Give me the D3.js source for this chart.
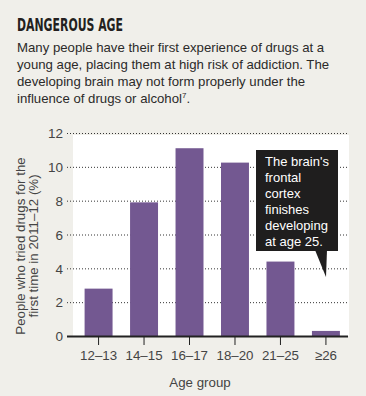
<!DOCTYPE html>
<html><head><meta charset="utf-8">
<script src="https://cdn.jsdelivr.net/npm/d3@7"></script>
<style>
html,body{margin:0;padding:0;background:#f0efea;}
svg{display:block;}
</style></head>
<body>
<svg id="chart" width="366" height="396"></svg>
<script>
const categories = ["12–13","14–15","16–17","18–20","21–25","≥26"];
const values = [2.8, 7.9, 11.1, 10.25, 4.4, 0.3];
const yTicks = [0,2,4,6,8,10,12];
const titleText = "DANGEROUS AGE";
const introLines = [
  "Many people have their first experience of drugs at a",
  "young age, placing them at high risk of addiction. The",
  "developing brain may not form properly under the",
  "influence of drugs or alcohol"
];
const yLabelLines = ["People who tried drugs for the","first time in 2011–12 (%)"];
const xLabel = "Age group";
const noteLines = ["The brain's","frontal","cortex","finishes","developing","at age 25."];

const svg = d3.select("#chart");
const font = "'Liberation Sans', Arial, sans-serif";
const textCol = "#2b2a29";
const barCol = "#735891";

// title
svg.append("text").attr("x",17).attr("y",31)
  .attr("font-family","'DejaVu Sans Condensed','Liberation Sans',sans-serif")
  .attr("font-weight","bold").attr("font-size",18).attr("fill","#231f20")
  .attr("textLength",106).attr("lengthAdjust","spacingAndGlyphs")
  .text(titleText);

const intro = svg.append("text").attr("font-family",font).attr("font-size",13.2).attr("fill",textCol);
introLines.forEach((l,i)=>{
  intro.append("tspan").attr("x",17).attr("y",52+i*17).text(l);
  if(i===introLines.length-1){
    intro.append("tspan").attr("font-size",8).attr("dy",-5).text("7");
    intro.append("tspan").attr("dy",5).text(".");
  }
});

const x = d3.scaleBand().domain(categories).range([75.5,349]).paddingInner(0.385).paddingOuter(0.2);
const y = d3.scaleLinear().domain([0,12]).range([336,133]);

// plot background
svg.append("rect").attr("x",73).attr("y",135).attr("width",276).attr("height",201).attr("fill","#ffffff");

// grid
svg.append("g").selectAll("line").data(yTicks.filter(d=>d>0)).join("line")
  .attr("x1",67).attr("x2",348).attr("y1",d=>y(d)+0.5).attr("y2",d=>y(d)+0.5)
  .attr("stroke","#333").attr("stroke-width",1).attr("stroke-dasharray","1,2");

// bars
svg.append("g").selectAll("rect").data(values).join("rect")
  .attr("x",(d,i)=>x(categories[i])).attr("width",x.bandwidth())
  .attr("y",d=>y(d)).attr("height",d=>y(0)-y(d)).attr("fill",barCol);

// y axis labels
const yAxis = d3.axisLeft(y).tickValues(yTicks).tickSize(0).tickPadding(4);
const gy = svg.append("g").attr("transform","translate(67,0)").call(yAxis);
gy.select(".domain").remove();
gy.selectAll("text").attr("font-family",font).attr("font-size",13.5).attr("fill","#444").attr("dy","0.35em");

// x axis
const xAxis = d3.axisBottom(x).tickSize(9).tickPadding(6);
const gx = svg.append("g").attr("transform","translate(0,336)").call(xAxis);
gx.select(".domain").remove();
gx.selectAll("line").attr("stroke","#222");
gx.selectAll("text").attr("font-family",font).attr("font-size",13.3).attr("fill","#444");
svg.append("line").attr("x1",67).attr("x2",348).attr("y1",336.5).attr("y2",336.5).attr("stroke","#222").attr("stroke-width",2);

// axis titles
svg.append("text").attr("x",200).attr("y",387).attr("text-anchor","middle")
  .attr("font-family",font).attr("font-size",13.3).attr("fill","#444").text(xLabel);
const yl = svg.append("text").attr("transform","translate(0,246) rotate(-90)")
  .attr("text-anchor","middle").attr("font-family",font).attr("font-size",13.3).attr("fill","#444");
yLabelLines.forEach((l,i)=>yl.append("tspan").attr("x",0).attr("y",25+i*13).text(l));

// callout
svg.append("rect").attr("x",256).attr("y",150).attr("width",82).attr("height",101).attr("fill","#1f1e1e");
svg.append("path").attr("d","M315,250 L327,250 L326,277 Z").attr("fill","#1f1e1e");
const nt = svg.append("text").attr("font-family",font).attr("font-size",13).attr("fill","#ffffff");
noteLines.forEach((l,i)=>nt.append("tspan").attr("x",265).attr("y",166+i*16).text(l));
</script>
</body></html>
